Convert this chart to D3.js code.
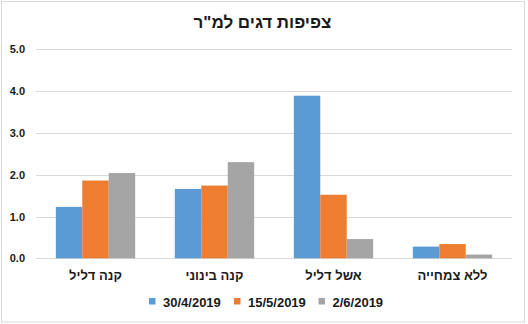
<!DOCTYPE html>
<html>
<head>
<meta charset="utf-8">
<script src="https://cdn.jsdelivr.net/npm/d3@7"></script>
<style>
  html, body { margin: 0; padding: 0; background: #fff; }
  svg { display: block; font-family: "Liberation Sans", Arial, sans-serif; }
</style>
</head>
<body>
<svg id="chart" width="528" height="324"></svg>
<script>
const title = 'צפיפות דגים למ"ר';
const categories = ["קנה דליל", "קנה בינוני", "אשל דליל", "ללא צמחייה"];
const seriesNames = ["30/4/2019", "15/5/2019", "2/6/2019"];
const series1 = [1.23, 1.66, 3.89, 0.28];
const series2 = [1.86, 1.74, 1.52, 0.34];
const series3 = [2.04, 2.30, 0.46, 0.09];
const yTicks = [0, 1, 2, 3, 4, 5];
const colors = ["#5B9BD5", "#ED7D31", "#A5A5A5"];

const allSeries = [series1, series2, series3];
const svg = d3.select("#chart");

// border
svg.append("rect").attr("x", 1.5).attr("y", 1.5).attr("width", 523).attr("height", 320.5)
  .attr("fill", "#fff").attr("stroke", "#d9d9d9").attr("stroke-width", 1);

const plotLeft = 36, plotRight = 512, plotTop = 49.3, plotBottom = 258.3;

const x0 = d3.scaleBand().domain(categories).range([plotLeft, plotRight]).paddingInner(0).paddingOuter(0);
const x1 = d3.scaleBand().domain(d3.range(allSeries.length))
  .range([0, x0.bandwidth()]).paddingInner(0).paddingOuter(0.75);
const y = d3.scaleLinear().domain([0, 5]).range([plotBottom, plotTop]);

// gridlines
svg.append("g").selectAll("line").data(yTicks).join("line")
  .attr("x1", plotLeft).attr("x2", plotRight)
  .attr("y1", d => Math.round(y(d)) + 0.5).attr("y2", d => Math.round(y(d)) + 0.5)
  .attr("stroke", "#d9d9d9").attr("stroke-width", 1);

// y tick labels
svg.append("g").selectAll("text").data(yTicks).join("text")
  .attr("x", 25).attr("y", d => y(d) + 4)
  .attr("text-anchor", "end")
  .attr("font-size", "11px").attr("font-weight", "bold").attr("fill", "#1a1a1a")
  .text(d => d.toFixed(1));

// bars
const groups = svg.append("g").selectAll("g").data(categories).join("g")
  .attr("transform", c => `translate(${x0(c)},0)`);
groups.selectAll("rect")
  .data((c, i) => allSeries.map((s, j) => ({ j, v: s[i] })))
  .join("rect")
  .attr("x", d => x1(d.j))
  .attr("width", x1.bandwidth())
  .attr("y", d => y(d.v))
  .attr("height", d => y(0) - y(d.v))
  .attr("fill", d => colors[d.j]);

// category labels
svg.append("g").selectAll("text").data(categories).join("text")
  .attr("x", c => x0(c) + x0.bandwidth() / 2)
  .attr("y", 280)
  .attr("text-anchor", "middle")
  .attr("font-size", "13px").attr("font-weight", "bold").attr("fill", "#1a1a1a")
  .text(c => c);

// title
svg.append("text").attr("x", 262.5).attr("y", 28)
  .attr("text-anchor", "middle")
  .attr("font-size", "17px").attr("font-weight", "bold").attr("fill", "#1a1a1a")
  .text(title);

// legend
const legendX = [149, 234, 318.5];
const leg = svg.append("g").selectAll("g").data(seriesNames).join("g")
  .attr("transform", (d, i) => `translate(${legendX[i]},0)`);
leg.append("rect").attr("x", 0).attr("y", 298).attr("width", 6.5).attr("height", 6.5)
  .attr("fill", (d, i) => colors[i]);
leg.append("text").attr("x", 14).attr("y", 307)
  .attr("font-size", "13px").attr("font-weight", "bold").attr("fill", "#1a1a1a")
  .text(d => d);
</script>
</body>
</html>
